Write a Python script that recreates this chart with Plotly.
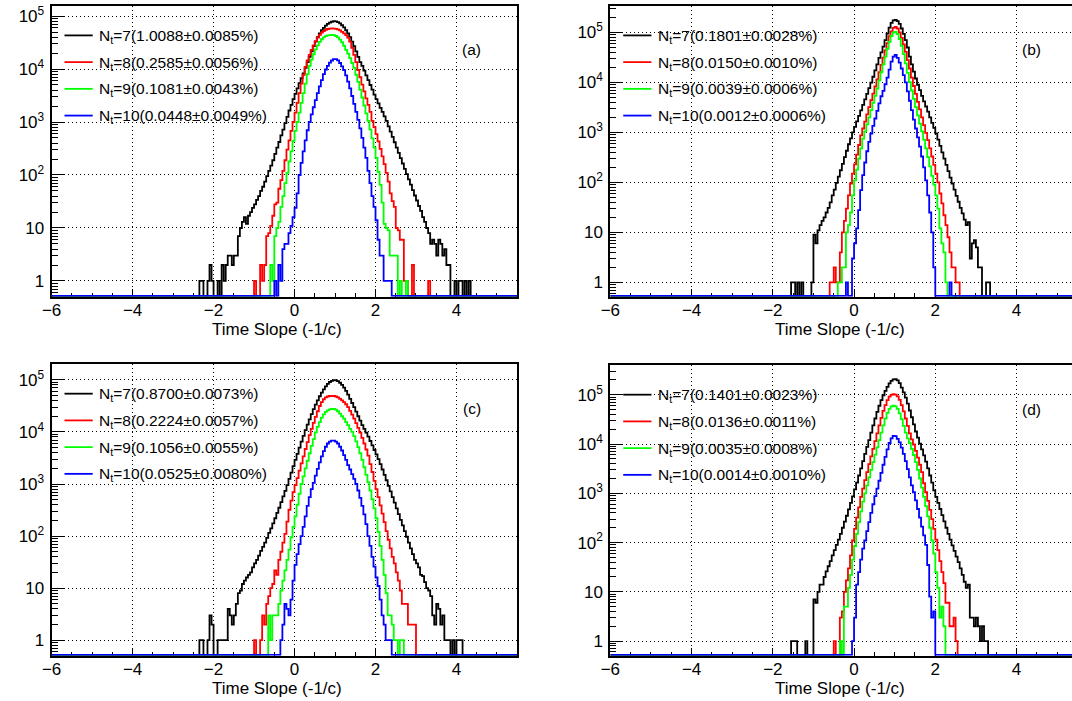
import numpy as np
import plotly.graph_objects as go

W, H = 1072, 701
BIN_LO, BIN_HI, NBINS = -6.0, 5.5, 230
BW = (BIN_HI - BIN_LO) / NBINS

# ---------------- data: counts per 0.05-wide bin, first bin lower edge = *_x0 ----------------
a_black_x0 = -2.35
a_black = [1,1,0,0,1,2,1,0,0,1,0,2,1,2,3,3,2,3,3,7,10,13,16,12,17,20,24,28,34,40,50,60,75,95,120,150,190,250,330,420,
           560,720,950,1250,1650,2100,2700,3400,4300,5400,6700,8300,10500,13500,17000,21500,27000,33000,40000,47000,
           54000,60000,66000,71000,75000,78000,80000,79500,77000,73000,67000,61000,54000,47000,40000,33000,27000,21500,
           17000,13500,11500,9300,7600,6200,5000,4100,3300,2700,2250,1850,1550,1280,1050,830,660,525,415,330,262,208,
           165,131,104,83,66,52,41,33,26,21,16,13,10,8,5,6,5,3,6,5,3,4,2,2,0,0,1,0,1,1,0,1,0,1]
a_red_x0 = -1.0
a_red = [1,0,0,2,1,2,7,8,11,17,28,30,55,80,120,190,300,450,680,1000,1500,2300,3500,5300,7800,11000,14500,18500,23000,
         28000,33500,39000,44000,48500,52000,55000,57000,58000,58500,58000,57500,56000,53500,50500,47000,43500,39000,
         33000,25000,18500,13500,9600,7000,5100,3800,2800,2100,1550,1050,800,590,430,310,225,160,110,75,45,32,25,10,9,
         6,6,1,1,0,0,2,0,0,0,0,0,0,0,1]
a_green_x0 = -0.6
a_green = [2,1,7,10,13,25,40,70,110,180,280,440,680,1000,1500,2300,3500,5300,8000,11500,15000,19000,23500,28000,32500,
           36500,39500,41800,43200,43800,44000,43500,42000,39500,36000,32000,27500,23000,19500,16000,13000,10500,7800,
           5700,4100,2900,2050,1450,1050,720,490,330,210,115,65,30,12,10,9,3,3,3,3,0,1,0,0,1]
a_blue_x0 = -0.5
a_blue = [1,0,2,1,4,5,5,8,11,16,24,45,100,170,280,450,700,1000,1400,1900,2600,3500,4700,6200,8000,9800,11500,13200,
          14500,15400,15400,14600,13000,11200,9500,7600,5800,4300,3100,2200,1550,1100,760,500,330,210,120,70,40,25,14,
          6,3,3,1,1,1,1]

b_black_x0 = -1.55
b_black = [1,1,0,1,0,1,0,0,0,0,1,9,6,11,14,17,20,25,31,40,55,72,98,130,175,235,320,430,580,760,1000,1290,1660,2140,
           2760,3560,4600,5900,7700,9900,13000,17500,23000,31000,40000,52000,70000,95000,125000,155000,175000,178000,
           168000,148000,120000,94000,70000,50000,33000,23000,16500,12000,9000,7000,5400,4200,3300,2600,2000,1560,1230,
           960,720,540,400,300,225,168,125,95,72,54,41,31,24,18,14,16,3,6,7,5,2,2,0,0,1,1]
b_red_x0 = -0.6
b_red = [1,1,2,1,1,4,10,17,30,55,95,150,230,360,560,870,1200,1650,2300,3200,4400,6000,8300,11500,16000,22500,31500,
         44000,61000,84000,105000,124000,130000,120000,100000,78000,58000,41000,28000,19000,12500,8500,5900,4100,2900,
         2000,1400,980,700,480,330,225,150,100,60,38,22,14,8,4,2,2,1,1]
b_green_x0 = -0.4
b_green = [1,1,2,2,10,14,25,55,110,180,300,480,750,1050,1450,2000,2800,3900,5400,7500,11000,16000,23000,33000,47000,
           65000,85000,100000,103000,93000,74000,54000,37000,24000,15500,10200,6900,4700,3200,2200,1500,1050,720,480,
           320,210,135,90,55,30,12,6,4,1]
b_blue_x0 = -0.2
b_blue = [1,0,0,3,6,12,28,70,140,250,420,650,950,1350,1900,2700,3800,5300,6800,9200,12500,18000,26000,33000,35500,
          31000,25000,19000,14000,10000,6600,4300,2800,1800,1200,800,520,330,200,110,55,25,10,2,0,0,0,0,0,0,0,1]

c_black_x0 = -2.35
c_black = [1,1,0,0,1,3,2,0,0,1,1,1,1,1,4,3,2,3,5,8,9,12,14,16,18,20,25,30,35,42,52,62,75,92,115,140,175,220,280,350,
           450,580,740,950,1250,1650,2200,2900,3800,5000,6500,8400,10800,13800,17500,22000,27500,33500,40500,48500,
           57000,66000,75000,84000,91000,96000,98500,98000,94500,88000,80000,71000,61500,52000,43000,36000,30000,24500,
           20000,16500,13500,11500,9700,8100,6700,5500,4500,3700,3000,2400,1900,1500,1180,920,720,560,440,340,265,205,
           160,125,97,75,58,45,35,30,25,18,17,13,10,9,7,3,2,5,4,2,3,1,1,1,0,1,0,1,1,1]
c_red_x0 = -1.0
c_red = [1,0,0,1,3,2,5,7,10,12,22,18,35,50,75,110,190,320,480,700,950,1300,1800,2500,3400,4700,6400,8700,11500,15000,
         19500,25000,31500,37500,42500,46000,48000,49000,49500,49000,48000,46000,43000,40500,37500,34000,30000,25500,
         21500,18000,14800,12000,9700,7700,6000,4600,3500,2400,1700,1150,800,560,390,270,185,125,85,58,40,30,20,14,9,
         5,5,5,2,2,2,2]
c_green_x0 = -0.65
c_green = [3,1,3,3,3,5,9,14,22,35,55,95,150,240,400,650,1000,1400,2000,2800,3900,5400,7300,9800,12500,15500,18800,
           21800,24200,26000,27200,27700,27600,26800,25000,22500,20000,18000,15500,13500,11500,10000,8300,6600,5100,
           3900,2900,2100,1500,1080,750,510,340,220,120,65,35,18,8,3,3,2,1,1,0,1,1]
c_blue_x0 = -0.35
c_blue = [1,2,5,4,3,6,14,28,45,70,100,150,240,380,560,800,1050,1450,1950,2600,3400,4300,5200,6000,6500,6800,6800,
          6500,6000,5200,4400,3600,2900,2300,1900,1550,1250,1000,750,540,380,260,170,100,65,40,26,16,11,6,3,2,1,1,1]

d_black_x0 = -1.55
d_black = [1,1,1,0,0,0,0,1,0,0,0,7,6,10,14,14,20,26,33,42,55,70,90,115,150,200,265,350,470,640,870,1200,1650,2300,
           3200,4500,6300,8800,12000,17000,24000,33000,45000,60000,78000,98000,120000,145000,170000,192000,205000,
           207000,196000,172000,140000,112000,88000,66000,48000,35000,25000,18000,13500,10200,7800,5900,4400,3200,2300,
           1650,1150,850,640,480,360,270,200,150,115,88,68,52,40,30,22,16,12,14,3,3,2,3,2,1,2,1,1]
d_red_x0 = -0.5
d_red = [1,0,0,3,4,10,17,30,55,110,190,320,520,850,1250,1850,2700,3900,5600,8000,11500,16500,24000,34000,47000,62000,
         78000,92000,100000,103000,101000,93000,79000,62000,46000,33000,23500,16500,12500,9800,7300,5300,3800,2700,
         1600,1050,700,460,300,190,115,70,42,25,15,6,6,2,2,3,1]
d_green_x0 = -0.35
d_green = [1,0,5,5,12,22,45,85,150,260,430,680,1000,1450,2100,3000,4300,6100,8600,12000,17000,24000,33000,43000,
           52000,58000,60000,58500,52000,42000,32000,23500,17000,13000,10500,8000,6000,4300,3000,2000,1300,850,550,340,
           200,110,60,25,12,3,5,2]
d_blue_x0 = -0.05
d_blue = [1,3,14,25,45,75,110,170,260,400,600,880,1250,1800,2600,3800,5500,7800,10500,13000,14700,14500,12800,10800,
          8500,6300,4500,3100,2100,1450,1050,720,480,320,210,140,90,35,8,3,4]

labels_a = ["7(1.0088±0.0085%)", "8(0.2585±0.0056%)", "9(0.1081±0.0043%)", "10(0.0448±0.0049%)"]
labels_b = ["7(0.1801±0.0028%)", "8(0.0150±0.0010%)", "9(0.0039±0.0006%)", "10(0.0012±0.0006%)"]
labels_c = ["7(0.8700±0.0073%)", "8(0.2224±0.0057%)", "9(0.1056±0.0055%)", "10(0.0525±0.0080%)"]
labels_d = ["7(0.1401±0.0023%)", "8(0.0136±0.0011%)", "9(0.0035±0.0008%)", "10(0.0014±0.0010%)"]

panel_tags = ["(a)", "(b)", "(c)", "(d)"]
x_title = "Time Slope (-1/c)"
ytick_vals = [1, 10, 100, 1000, 10000, 100000]
ytick_text = ["1", "10", "10<sup>2</sup>", "10<sup>3</sup>", "10<sup>4</sup>", "10<sup>5</sup>"]

# ---------------- layout geometry (pixels) ----------------
COLORS = ["#000000", "#ff0000", "#00ff00", "#0000ff"]
FONT = "Liberation Sans, Arial, Helvetica, sans-serif"

panels = [
    dict(series=[(a_black_x0, a_black), (a_red_x0, a_red), (a_green_x0, a_green), (a_blue_x0, a_blue)],
         labels=labels_a, px=(42, 512), py=(4, 295.7), xr=(-6, 5.5), yr=(-0.30, 5.19), right_frame=True,
         tag_xy=(466, 48), title_xy=(270, 328)),
    dict(series=[(b_black_x0, b_black), (b_red_x0, b_red), (b_green_x0, b_green), (b_blue_x0, b_blue)],
         labels=labels_b, px=(606, 1072), py=(4, 295.7), xr=(-6, 5.366), yr=(-0.29, 5.53), right_frame=False,
         tag_xy=(1031, 48), title_xy=(838, 328)),
    dict(series=[(c_black_x0, c_black), (c_red_x0, c_red), (c_green_x0, c_green), (c_blue_x0, c_blue)],
         labels=labels_c, px=(42, 512), py=(363.3, 655.7), xr=(-6, 5.5), yr=(-0.30, 5.30), right_frame=True,
         tag_xy=(466, 408), title_xy=(270, 688)),
    dict(series=[(d_black_x0, d_black), (d_red_x0, d_red), (d_green_x0, d_green), (d_blue_x0, d_blue)],
         labels=labels_d, px=(606, 1072), py=(364.3, 655.7), xr=(-6, 5.366), yr=(-0.30, 5.60), right_frame=False,
         tag_xy=(1031, 409), title_xy=(838, 688)),
]

def pxx(v):
    return v / W

def pxy(v):
    return 1 - v / H

edges = np.linspace(BIN_LO, BIN_HI, NBINS + 1)
minor_vals = [m * 10 ** e for e in range(-1, 7) for m in range(2, 10)]

fig = go.Figure()
shapes, annotations = [], []
layout = {}

for i, p in enumerate(panels):
    n = i + 1
    xa = "x" if n == 1 else f"x{n}"
    ya = "y" if n == 1 else f"y{n}"
    zero_level = 10 ** (p["yr"][0] + 0.02)
    for (x0, counts), col in zip(p["series"], COLORS):
        full = np.zeros(NBINS)
        start = int(round((x0 - BIN_LO) / BW))
        full[start:start + len(counts)] = counts
        yv = np.where(full > 0, full, zero_level)
        fig.add_trace(go.Scatter(x=edges, y=list(yv) + [yv[-1]], mode="lines", line_shape="hv",
                                 line=dict(color=col, width=1.8), xaxis=xa, yaxis=ya,
                                 showlegend=False, hoverinfo="skip"))
    xdom = [pxx(p["px"][0]), pxx(p["px"][1])]
    ydom = [pxy(p["py"][1]), pxy(p["py"][0])]
    layout[f"xaxis{'' if n == 1 else n}"] = dict(
        domain=xdom, anchor=ya, range=list(p["xr"]), tick0=0, dtick=2,
        ticks="inside", ticklen=8, tickcolor="black", tickwidth=1.3,
        minor=dict(dtick=0.5, ticks="inside", ticklen=4, tickcolor="black", tickwidth=1.3, showgrid=False),
        showgrid=True, gridcolor="black", griddash="1px,3px", gridwidth=1.2,
        showline=True, linecolor="black", linewidth=2, mirror=True, zeroline=False,
        tickfont=dict(family=FONT, size=17, color="black"), ticklabelstandoff=-3,
        layer="below traces")
    layout[f"yaxis{'' if n == 1 else n}"] = dict(
        domain=ydom, anchor=xa, type="log", range=list(p["yr"]),
        tickmode="array", tickvals=ytick_vals, ticktext=ytick_text,
        ticks="inside", ticklen=12, tickcolor="black", tickwidth=1.3,
        minor=dict(tickmode="array", tickvals=minor_vals, ticks="inside", ticklen=6,
                   tickcolor="black", tickwidth=1.3, showgrid=False),
        showgrid=True, gridcolor="black", griddash="1px,3px", gridwidth=1.2,
        showline=True, linecolor="black", linewidth=2, mirror=p["right_frame"], zeroline=False,
        tickfont=dict(family=FONT, size=17, color="black"), ticklabelstandoff=2,
        layer="below traces")

    # legend (drawn manually, no box)
    left, top = p["px"][0], p["py"][0]
    for k, (lab, col) in enumerate(zip(p["labels"], COLORS)):
        yrow = top + 29.5 + k * 26.8
        shapes.append(dict(type="line", xref="paper", yref="paper",
                           x0=pxx(left + 13), x1=pxx(left + 41.5), y0=pxy(yrow), y1=pxy(yrow),
                           line=dict(color=col, width=1.8)))
        annotations.append(dict(x=pxx(left + 46), y=pxy(yrow + 1), xref="paper", yref="paper",
                                text="N<sub>t</sub>=" + lab, showarrow=False, xanchor="left",
                                yanchor="middle", font=dict(family=FONT, size=15.5, color="black")))
    annotations.append(dict(x=pxx(p["tag_xy"][0]), y=pxy(p["tag_xy"][1]), xref="paper", yref="paper",
                            text=panel_tags[i], showarrow=False, xanchor="center", yanchor="middle",
                            font=dict(family=FONT, size=15.5, color="black")))
    annotations.append(dict(x=pxx(p["title_xy"][0]), y=pxy(p["title_xy"][1]), xref="paper", yref="paper",
                            text=x_title, showarrow=False, xanchor="center", yanchor="middle",
                            font=dict(family=FONT, size=17, color="black")))

fig.update_layout(width=W, height=H, autosize=False, margin=dict(l=0, r=0, t=0, b=0, pad=0),
                  paper_bgcolor="white", plot_bgcolor="white", showlegend=False,
                  shapes=shapes, annotations=annotations, **layout)

fig.write_html("out.html")
